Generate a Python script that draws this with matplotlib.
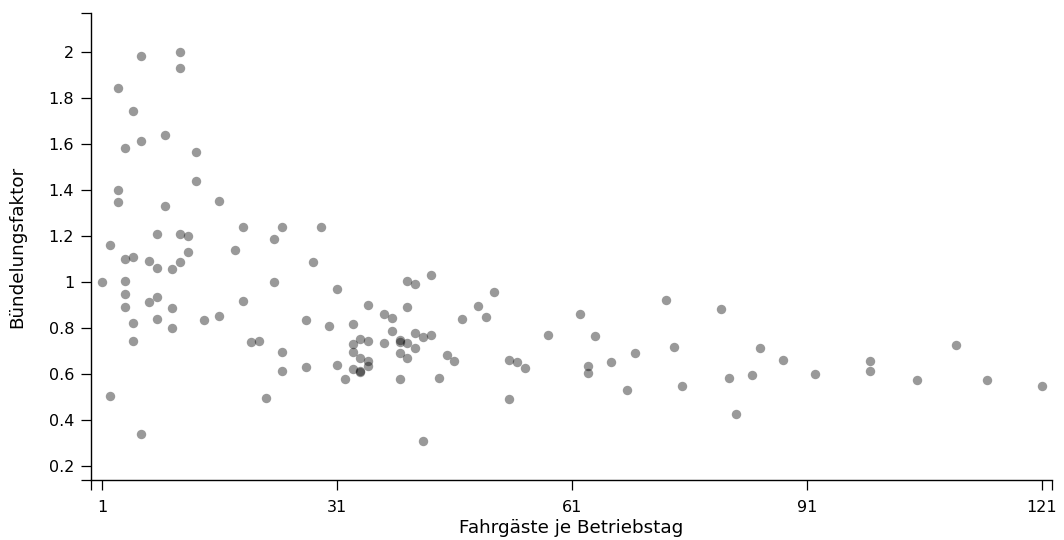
import matplotlib
matplotlib.use("Agg")
import matplotlib.pyplot as plt

# Fahrgäste je Betriebstag (x) and Bündelungsfaktor (y), one entry per point
fahrgaeste = [
    6, 11, 11, 3, 5, 9, 6, 4, 13, 13, 3, 3, 9, 16, 19, 8, 11, 12, 2, 4,
    5, 7, 8, 10, 11, 12, 18, 1, 4, 4, 4, 7, 8, 10, 19, 5, 8, 10, 14, 16,
    5, 20, 21, 2, 6, 24, 29, 23, 28, 23, 31, 40, 41, 43, 51, 35, 40, 49, 37, 38,
    47, 50, 27, 30, 33, 38, 41, 42, 43, 34, 35, 33, 37, 39, 39, 40, 41, 24, 33, 34,
    35, 35, 39, 40, 45, 46, 27, 31, 33, 34, 34, 24, 32, 39, 44, 22, 42, 62, 73, 80,
    58, 64, 74, 85, 69, 53, 54, 55, 66, 63, 63, 81, 84, 75, 68, 53, 82, 88, 92, 99,
    99, 105, 110, 114, 121,
]
buendelung = [
    1.985, 2.001, 1.933, 1.844, 1.744, 1.638, 1.615, 1.582, 1.566, 1.441,
    1.400, 1.348, 1.332, 1.354, 1.238, 1.209, 1.209, 1.200, 1.160, 1.099,
    1.107, 1.092, 1.059, 1.055, 1.088, 1.129, 1.138, 1.001, 1.004, 0.946,
    0.891, 0.914, 0.933, 0.887, 0.917, 0.823, 0.839, 0.798, 0.834, 0.853,
    0.742, 0.739, 0.742, 0.502, 0.337, 1.240, 1.240, 1.188, 1.086, 1.001,
    0.969, 1.005, 0.992, 1.030, 0.956, 0.900, 0.892, 0.897, 0.859, 0.842,
    0.840, 0.849, 0.836, 0.808, 0.817, 0.786, 0.779, 0.759, 0.769, 0.753,
    0.742, 0.730, 0.733, 0.747, 0.739, 0.733, 0.714, 0.695, 0.694, 0.670,
    0.657, 0.635, 0.691, 0.670, 0.682, 0.655, 0.630, 0.637, 0.621, 0.614,
    0.608, 0.611, 0.579, 0.576, 0.583, 0.495, 0.306, 0.860, 0.921, 0.881,
    0.769, 0.765, 0.717, 0.712, 0.691, 0.660, 0.653, 0.625, 0.653, 0.635,
    0.605, 0.582, 0.594, 0.546, 0.528, 0.492, 0.426, 0.659, 0.598, 0.656,
    0.611, 0.574, 0.724, 0.574, 0.546,
]

x_ticks = [1, 31, 61, 91, 121]
y_ticks = [0.2, 0.4, 0.6, 0.8, 1.0, 1.2, 1.4, 1.6, 1.8, 2.0]
y_tick_labels = ["0.2", "0.4", "0.6", "0.8", "1", "1.2", "1.4", "1.6", "1.8", "2"]

XLIM = (-0.404, 122.28)
YLIM = (0.1377, 2.171)

W, H = 1064, 540
fig = plt.figure(figsize=(W / 100, H / 100), dpi=100)
ax = fig.add_axes([91 / W, 60 / H, 961 / W, 467 / H])

ax.scatter(fahrgaeste, buendelung, s=46, color="black", alpha=0.4, linewidths=0, zorder=3)

ax.set_xlim(*XLIM)
ax.set_ylim(*YLIM)
ax.set_xticks(x_ticks, [str(t) for t in x_ticks])
ax.set_yticks(y_ticks, y_tick_labels)
# outer ticks at the domain ends, like a d3 axis
ax.set_xticks(list(XLIM), minor=True)
ax.set_yticks(list(YLIM), minor=True)

for side in ("top", "right"):
    ax.spines[side].set_visible(False)
for side in ("left", "bottom"):
    ax.spines[side].set_linewidth(1.0)
    ax.spines[side].set_color("black")

ax.tick_params(which="both", direction="out", length=7.2, width=0.9, color="black",
               labelsize=11.5)
ax.tick_params(axis="x", pad=7)
ax.tick_params(axis="y", pad=5)

ax.set_xlabel("Fahrgäste je Betriebstag", fontsize=13.2, labelpad=3)
ax.set_ylabel("Bündelungsfaktor", fontsize=13.2, labelpad=16)

fig.savefig("out.png", dpi=100)
